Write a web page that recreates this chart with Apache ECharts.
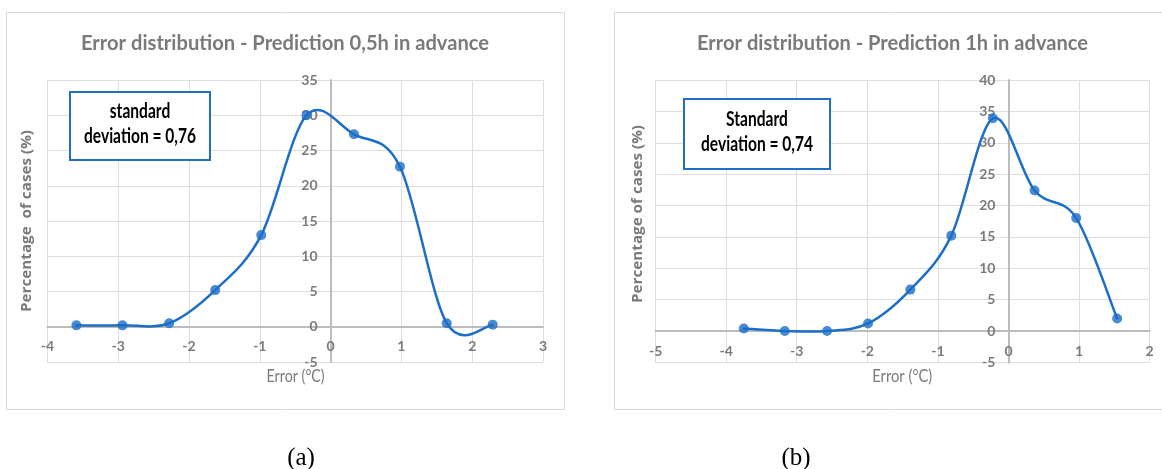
<!DOCTYPE html>
<html>
<head>
<meta charset="utf-8">
<title>Error distribution</title>
<script src="https://cdn.jsdelivr.net/npm/echarts@6/dist/echarts.min.js"></script>
<style>
  html, body { margin: 0; padding: 0; background: #fff; }
  #chart { width: 1162px; height: 469px; }
</style>
</head>
<body>
<div id="chart"></div>
<script>
// Prediction 0,5 h in advance: bin centre of the error (°C) and share of cases (%)
const errHalfHour = [-3.59, -2.94, -2.28, -1.63, -0.98, -0.34, 0.33, 0.98, 1.64, 2.29];
const pctHalfHour = [0.2, 0.2, 0.5, 5.2, 13.0, 30.0, 27.3, 22.7, 0.5, 0.3];

// Prediction 1 h in advance
const errOneHour = [-3.75, -3.17, -2.57, -1.99, -1.39, -0.81, -0.22, 0.37, 0.96, 1.54];
const pctOneHour = [0.4, 0.0, 0.0, 1.2, 6.6, 15.2, 33.9, 22.4, 18.0, 2.0];

// Axis tick values
const xTicksHalfHour = [-4, -3, -2, -1, 0, 1, 2, 3];
const yTicksHalfHour = [-5, 0, 5, 10, 15, 20, 25, 30, 35];
const xTicksOneHour = [-5, -4, -3, -2, -1, 0, 1, 2];
const yTicksOneHour = [-5, 0, 5, 10, 15, 20, 25, 30, 35, 40];

const titles = [
  'Error distribution - Prediction 0,5h in advance',
  'Error distribution - Prediction 1h in advance'
];
const stdNotes = [
  ['standard', 'deviation = 0,76'],
  ['Standard', 'deviation = 0,74']
];
const yNames = ['Percentage  of cases (%)', 'Percentage of cases (%)'];
const xName = 'Error (°C)';
const panelTags = ['(a)', '(b)'];

const SANS = "Lato, 'Noto Sans', sans-serif";
const WIDE = "'Open Sans', 'Noto Sans', sans-serif";
const SERIF = "'Liberation Serif', 'DejaVu Serif', serif";
const GREY = '#7a7a7a';
const BLUE = '#1c6ec8';

const grids = [
  { left: 47.4, top: 80, width: 495.6, height: 282 },
  { left: 655.6, top: 80, width: 494, height: 282.4 }
];

const pairs = (xs, ys) => xs.map((x, i) => [x, ys[i]]);

// horizontal squeeze so a string spans a given width (Calibri-like narrow look)
const measureCtx = document.createElement('canvas').getContext('2d');
function squeeze(text, weight, size, family, width) {
  measureCtx.font = weight + ' ' + size + 'px ' + family;
  return width / measureCtx.measureText(text).width;
}

const axisText = { color: GREY, fontFamily: SANS, fontSize: 14, fontWeight: 'bold', margin: 13 };

// the axes cross at zero: shift each axis from the grid edge to the zero position
function xAxisFor(ticks, g) {
  const min = ticks[0], max = ticks[ticks.length - 1];
  const yT = [yTicksHalfHour, yTicksOneHour][g];
  const yMin = yT[0], yMax = yT[yT.length - 1];
  return {
    type: 'value', gridIndex: g, position: 'bottom',
    min, max, interval: 1,
    offset: -grids[g].height * (0 - yMin) / (yMax - yMin),
    axisLine: { onZero: false, lineStyle: { color: '#bcbcbc', width: 2 } },
    axisTick: { show: false },
    axisLabel: axisText,
    splitLine: { show: true, lineStyle: { color: '#dedede', width: 1 } }
  };
}
function yAxisFor(ticks, g) {
  const min = ticks[0], max = ticks[ticks.length - 1];
  const xT = [xTicksHalfHour, xTicksOneHour][g];
  const xMin = xT[0], xMax = xT[xT.length - 1];
  return {
    type: 'value', gridIndex: g, position: 'left',
    min, max, interval: 5,
    offset: -grids[g].width * (0 - xMin) / (xMax - xMin),
    axisLine: { onZero: false, lineStyle: { color: '#bcbcbc', width: 2 } },
    axisTick: { show: false },
    axisLabel: axisText,
    splitLine: { show: true, lineStyle: { color: '#dedede', width: 1 } }
  };
}

// smoothed curve through the points (cardinal spline, tension 1/6)
function curve(xs, ys, g) {
  return {
    type: 'custom', xAxisIndex: g, yAxisIndex: g,
    data: pairs(xs, ys),
    encode: { x: 0, y: 1 },
    z: 4,
    renderItem(params, api) {
      if (params.dataIndex !== 0) return null;
      const p = xs.map((x, i) => api.coord([x, ys[i]]));
      const n = p.length;
      let d = 'M' + p[0][0] + ' ' + p[0][1];
      for (let i = 0; i < n - 1; i++) {
        const a = p[Math.max(i - 1, 0)], b = p[i], c = p[i + 1], e = p[Math.min(i + 2, n - 1)];
        const c1 = [b[0] + (c[0] - a[0]) / 6, b[1] + (c[1] - a[1]) / 6];
        const c2 = [c[0] - (e[0] - b[0]) / 6, c[1] - (e[1] - b[1]) / 6];
        d += ' C' + c1[0] + ' ' + c1[1] + ' ' + c2[0] + ' ' + c2[1] + ' ' + c[0] + ' ' + c[1];
      }
      return {
        type: 'path',
        shape: { pathData: d },
        style: { fill: null, stroke: BLUE, lineWidth: 2.5, lineJoin: 'round', lineCap: 'round' }
      };
    }
  };
}
function markers(xs, ys, g) {
  return {
    type: 'scatter', xAxisIndex: g, yAxisIndex: g,
    data: pairs(xs, ys),
    symbol: 'circle', symbolSize: 10,
    itemStyle: { color: BLUE },
    z: 5
  };
}

function label(text, x, y, weight, size, family, color, width, extra) {
  const sx = width ? squeeze(text, weight, size, family, width) : 1;
  return Object.assign({
    type: 'text', x, y, z: 20, scaleX: sx,
    style: {
      text, fill: color, fontWeight: weight, fontSize: size, fontFamily: family,
      align: 'center', verticalAlign: 'middle'
    }
  }, extra || {});
}
function noteBox(x, y, w, h, lines, cx, y1, y2) {
  const sx = squeeze(lines[1], 'bold', 20, SANS, 112);
  const t = (s, yy) => ({
    type: 'text', x: cx, y: yy, z: 20, scaleX: sx,
    style: { text: s, fill: '#000', fontWeight: 'bold', fontSize: 20, fontFamily: SANS,
      align: 'center', verticalAlign: 'middle' }
  });
  return [
    { type: 'rect', z: 15, shape: { x, y, width: w, height: h },
      style: { fill: '#fff', stroke: '#1f6fc5', lineWidth: 2 } },
    t(lines[0], y1), t(lines[1], y2)
  ];
}

const chart = echarts.init(document.getElementById('chart'), null, { renderer: 'canvas' });
chart.setOption({
  animation: false,
  backgroundColor: '#fff',
  grid: grids,
  xAxis: [xAxisFor(xTicksHalfHour, 0), xAxisFor(xTicksOneHour, 1)],
  yAxis: [yAxisFor(yTicksHalfHour, 0), yAxisFor(yTicksOneHour, 1)],
  series: [
    curve(errHalfHour, pctHalfHour, 0), markers(errHalfHour, pctHalfHour, 0),
    curve(errOneHour, pctOneHour, 1), markers(errOneHour, pctOneHour, 1)
  ],
  graphic: [
    { type: 'rect', z: -1, silent: true, shape: { x: 6.5, y: 12.5, width: 558, height: 397 },
      style: { fill: null, stroke: '#d9d9d9', lineWidth: 1 } },
    { type: 'rect', z: -1, silent: true, shape: { x: 614.5, y: 12.5, width: 560, height: 397 },
      style: { fill: null, stroke: '#d9d9d9', lineWidth: 1 } },
    label(titles[0], 285, 43, 'bold', 21, SANS, GREY, 408),
    label(titles[1], 892.5, 43, 'bold', 21, SANS, GREY, 391),
    ...noteBox(70, 92, 140, 68, stdNotes[0], 140, 112, 137),
    ...noteBox(684, 99, 146, 70, stdNotes[1], 757, 120, 145),
    label(yNames[0], 26.6, 221, 'bold', 14, WIDE, GREY, 182, { rotation: Math.PI / 2 }),
    label(yNames[1], 637.6, 214, 'bold', 14, WIDE, GREY, 178, { rotation: Math.PI / 2 }),
    label(xName, 295.6, 377, 'normal', 17, SANS, GREY, 58),
    label(xName, 902.3, 377, 'normal', 17, SANS, GREY, 60),
    label(panelTags[0], 301, 458, 'normal', 25, SERIF, '#000'),
    label(panelTags[1], 796, 458, 'normal', 25, SERIF, '#000')
  ]
});
</script>
</body>
</html>
